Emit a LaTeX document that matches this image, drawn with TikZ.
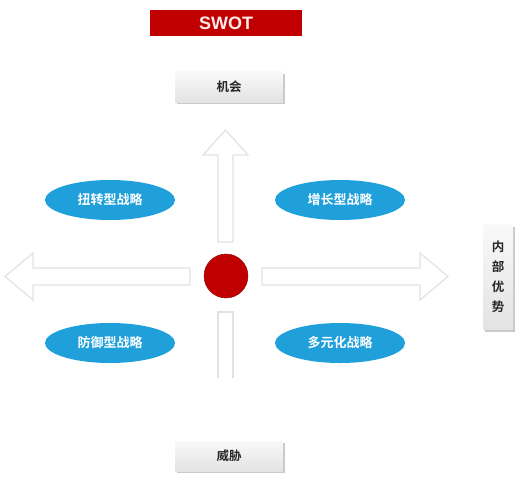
\documentclass[tikz,border=0pt]{standalone}
\usepackage{fontspec}
\newfontfamily\cjk{Noto Sans CJK SC}[BoldFont={Noto Sans CJK SC Bold}]
\newfontfamily\titlefont{Liberation Sans}
\usetikzlibrary{shadows,shapes.geometric}
\definecolor{swotred}{HTML}{C00000}
\definecolor{ellblue}{HTML}{1FA0DA}
\definecolor{arrgray}{HTML}{E2E2E2}
\definecolor{dotred}{HTML}{C00000}
\tikzset{
  graybox/.style={draw=none, top color=gray!5, bottom color=gray!22, minimum width=108pt, minimum height=30pt,
    drop shadow={shadow xshift=2pt, shadow yshift=-2pt, fill=gray!60, opacity=0.7}, font=\cjk\bfseries\fontsize{12.5}{14}\selectfont, text=black!85},
  strat/.style={ellipse, fill=ellblue, minimum width=130pt, minimum height=40pt, inner sep=0pt, text=white, font=\cjk\bfseries\fontsize{13}{15}\selectfont},
  arrowshape/.style={draw=arrgray, line width=1.2pt, fill=white, line join=miter},
}
\begin{document}
\begin{tikzpicture}[x=1pt,y=-1pt]
\useasboundingbox (0,0) rectangle (526,484);
% title
\node[fill=swotred, minimum width=152pt, minimum height=26pt, inner sep=0pt, text=white!92!red, font=\titlefont\bfseries\fontsize{18}{20}\selectfont] (swot) at (226,23) {SWOT};
% boxes
\node[graybox] (opp) at (229,87) {机会};
\node[graybox] (thr) at (229,456) {威胁};
\node[graybox, minimum width=30pt, minimum height=105pt, align=center, font=\cjk\bfseries\fontsize{12.5}{20}\selectfont] (inner) at (498,277) {内\\部\\优\\势};
% arrows
\draw[arrowshape] (218,242) -- (218,155) -- (203,155) -- (225.5,130) -- (248,155) -- (233,155) -- (233,242) -- cycle;
\draw[arrowshape] (190,268) -- (33,268) -- (33,253) -- (5,276.5) -- (33,300) -- (33,285) -- (190,285) -- cycle;
\draw[arrowshape] (262,268) -- (420,268) -- (420,253) -- (448,276.5) -- (420,300) -- (420,285) -- (262,285) -- cycle;
\draw[arrowshape] (218,378) -- (218,312) -- (233,312) -- (233,378);
% centre
\node[circle, fill=dotred, draw=dotred!80!black, minimum size=44pt, inner sep=0pt] (center) at (226,276) {};
% strategies
\node[strat] (s1) at (110,200) {扭转型战略};
\node[strat] (s2) at (340,200) {增长型战略};
\node[strat] (s3) at (110,343) {防御型战略};
\node[strat] (s4) at (340,343) {多元化战略};
\end{tikzpicture}
\end{document}
